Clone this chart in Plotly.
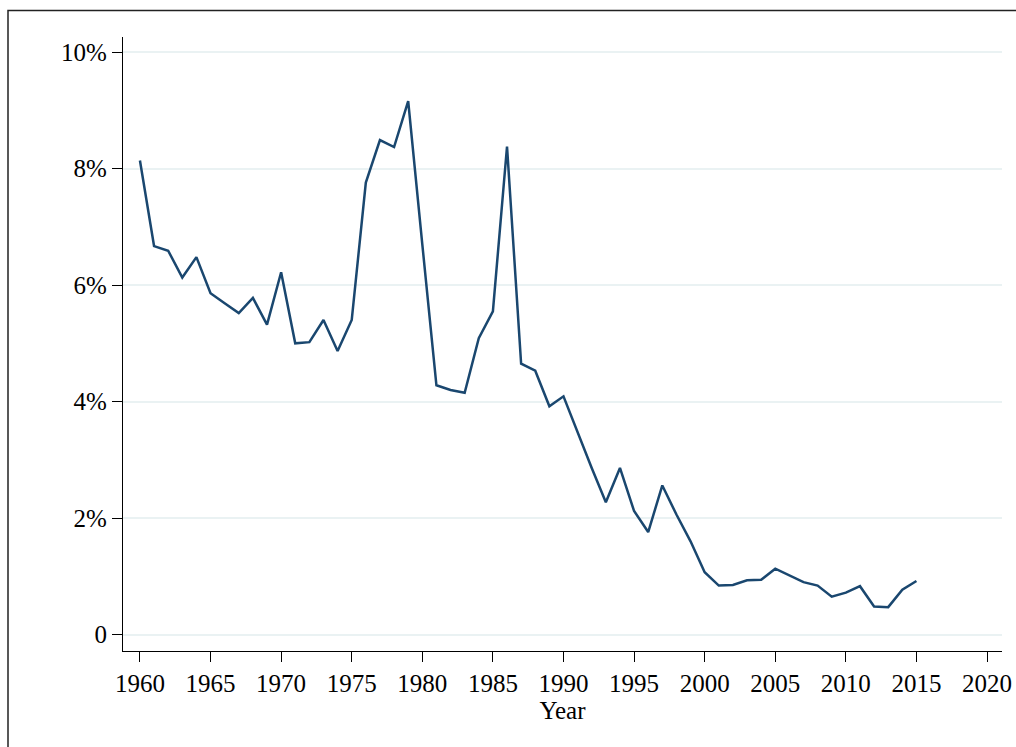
import plotly.graph_objects as go

years = list(range(1960, 2016))
rate = [8.14, 6.67, 6.59, 6.13, 6.48, 5.86, 5.69, 5.52, 5.78, 5.32,
        6.22, 5.00, 5.02, 5.40, 4.87, 5.40, 7.76, 8.49, 8.37, 9.16,
        6.70, 4.28, 4.20, 4.15, 5.09, 5.55, 8.38, 4.65, 4.53, 3.92,
        4.09, 3.46, 2.86, 2.27, 2.86, 2.12, 1.76, 2.56, 2.06, 1.60,
        1.07, 0.84, 0.85, 0.93, 0.94, 1.13, 1.01, 0.90, 0.84, 0.65,
        0.72, 0.83, 0.48, 0.47, 0.77, 0.92]

xticks = [1960, 1965, 1970, 1975, 1980, 1985, 1990, 1995, 2000, 2005, 2010, 2015, 2020]
yticks = [0, 2, 4, 6, 8, 10]
ylabels = ["0", "2%", "4%", "6%", "8%", "10%"]

W, H = 1016, 747
L, R, T, B = 123, 14, 37, 96
pw, ph = W - L - R, H - T - B

font = dict(family="Liberation Serif", size=25, color="black")

fig = go.Figure()
fig.add_trace(go.Scatter(x=years, y=rate, mode="lines",
                         line=dict(color="#1a476f", width=2.5),
                         showlegend=False, hoverinfo="skip"))

# outer graph border (stata style), cut off on right / bottom
fig.add_shape(type="rect", xref="paper", yref="paper",
              x0=(8 - L) / pw, x1=(W + 60 - L) / pw,
              y0=-(B + 60) / ph, y1=(H - B - 10.5) / ph,
              line=dict(color="#222222", width=1.5), fillcolor="rgba(0,0,0,0)")

fig.update_layout(
    width=W, height=H,
    margin=dict(l=L, r=R, t=T, b=B, autoexpand=False),
    paper_bgcolor="white", plot_bgcolor="white",
    font=font,
)
fig.update_xaxes(range=[1958.80, 2021.06], tickvals=xticks, automargin=False,
                 showgrid=False, zeroline=False,
                 showline=True, linecolor="black", linewidth=1.2,
                 ticks="outside", ticklen=10, tickwidth=1.2, tickcolor="black",
                 title=dict(text="Year", font=font, standoff=0))
fig.update_yaxes(range=[-0.283, 10.26], tickvals=yticks, ticktext=ylabels,
                 automargin=False,
                 showgrid=True, gridcolor="#eaf2f3", gridwidth=2,
                 zeroline=False,
                 showline=True, linecolor="black", linewidth=1.2,
                 ticks="outside", ticklen=10, tickwidth=1.2, tickcolor="black")

# drop the default page margin so the figure sits at the top-left corner
fig.write_html("out.html", config={"displayModeBar": False},
               post_script="document.body.style.margin='0';")
